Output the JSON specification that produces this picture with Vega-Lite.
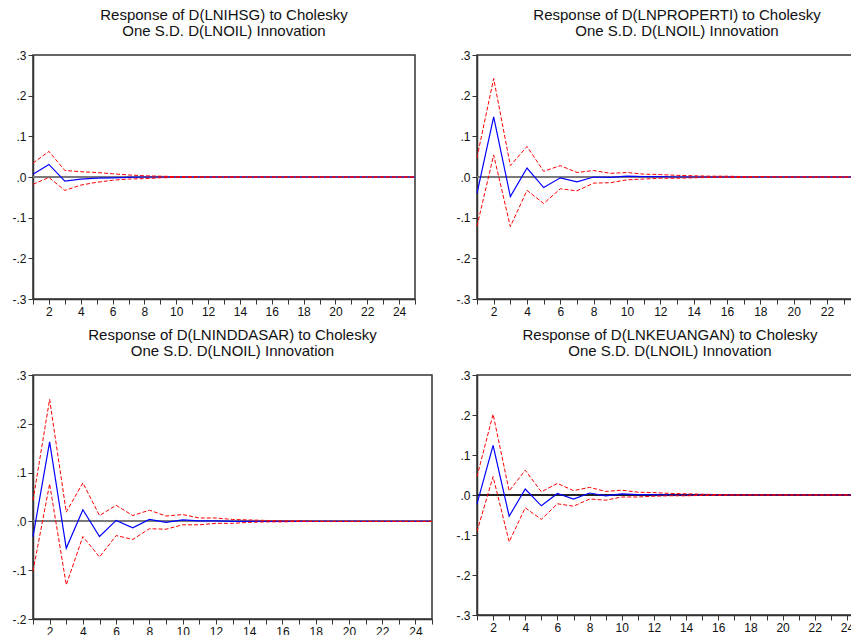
{
  "$schema": "https://vega.github.io/schema/vega-lite/v6.json",
  "background": "white",
  "padding": {"left": 11, "top": 7, "right": 0, "bottom": 0},
  "bounds": "flush",
  "align": "none",
  "columns": 2,
  "spacing": {"row": 76, "column": 45},
  "datasets": {
    "irf": [
      {"p":"IHSG","t":1,"r":0.007,"u":0.034,"l":-0.018},
      {"p":"IHSG","t":2,"r":0.031,"u":0.063,"l":-0.001},
      {"p":"IHSG","t":3,"r":-0.010,"u":0.016,"l":-0.033},
      {"p":"IHSG","t":4,"r":-0.005,"u":0.013,"l":-0.020},
      {"p":"IHSG","t":5,"r":-0.003,"u":0.011,"l":-0.013},
      {"p":"IHSG","t":6,"r":-0.002,"u":0.008,"l":-0.008},
      {"p":"IHSG","t":7,"r":-0.001,"u":0.005,"l":-0.005},
      {"p":"IHSG","t":8,"r":0.000,"u":0.003,"l":-0.004},
      {"p":"IHSG","t":9,"r":0.000,"u":0.002,"l":-0.002},
      {"p":"IHSG","t":10,"r":0.000,"u":0.001,"l":-0.001},
      {"p":"IHSG","t":11,"r":0.000,"u":0.001,"l":-0.001},
      {"p":"IHSG","t":12,"r":0,"u":0,"l":0},
      {"p":"IHSG","t":13,"r":0,"u":0,"l":0},
      {"p":"IHSG","t":14,"r":0,"u":0,"l":0},
      {"p":"IHSG","t":15,"r":0,"u":0,"l":0},
      {"p":"IHSG","t":16,"r":0,"u":0,"l":0},
      {"p":"IHSG","t":17,"r":0,"u":0,"l":0},
      {"p":"IHSG","t":18,"r":0,"u":0,"l":0},
      {"p":"IHSG","t":19,"r":0,"u":0,"l":0},
      {"p":"IHSG","t":20,"r":0,"u":0,"l":0},
      {"p":"IHSG","t":21,"r":0,"u":0,"l":0},
      {"p":"IHSG","t":22,"r":0,"u":0,"l":0},
      {"p":"IHSG","t":23,"r":0,"u":0,"l":0},
      {"p":"IHSG","t":24,"r":0,"u":0,"l":0},
      {"p":"IHSG","t":25,"r":0,"u":0,"l":0},

      {"p":"PROPERTI","t":1,"r":-0.040,"u":0.048,"l":-0.121},
      {"p":"PROPERTI","t":2,"r":0.148,"u":0.242,"l":0.054},
      {"p":"PROPERTI","t":3,"r":-0.048,"u":0.028,"l":-0.122},
      {"p":"PROPERTI","t":4,"r":0.022,"u":0.075,"l":-0.033},
      {"p":"PROPERTI","t":5,"r":-0.026,"u":0.014,"l":-0.065},
      {"p":"PROPERTI","t":6,"r":-0.002,"u":0.028,"l":-0.029},
      {"p":"PROPERTI","t":7,"r":-0.012,"u":0.011,"l":-0.034},
      {"p":"PROPERTI","t":8,"r":0.000,"u":0.016,"l":-0.015},
      {"p":"PROPERTI","t":9,"r":-0.001,"u":0.009,"l":-0.014},
      {"p":"PROPERTI","t":10,"r":0.002,"u":0.011,"l":-0.007},
      {"p":"PROPERTI","t":11,"r":0.001,"u":0.007,"l":-0.005},
      {"p":"PROPERTI","t":12,"r":0.001,"u":0.006,"l":-0.003},
      {"p":"PROPERTI","t":13,"r":0.000,"u":0.004,"l":-0.003},
      {"p":"PROPERTI","t":14,"r":0.000,"u":0.003,"l":-0.002},
      {"p":"PROPERTI","t":15,"r":0.000,"u":0.002,"l":-0.001},
      {"p":"PROPERTI","t":16,"r":0.000,"u":0.002,"l":-0.001},
      {"p":"PROPERTI","t":17,"r":0.000,"u":0.001,"l":-0.001},
      {"p":"PROPERTI","t":18,"r":0.000,"u":0.001,"l":0.000},
      {"p":"PROPERTI","t":19,"r":0,"u":0,"l":0},
      {"p":"PROPERTI","t":20,"r":0,"u":0,"l":0},
      {"p":"PROPERTI","t":21,"r":0,"u":0,"l":0},
      {"p":"PROPERTI","t":22,"r":0,"u":0,"l":0},
      {"p":"PROPERTI","t":23,"r":0,"u":0,"l":0},
      {"p":"PROPERTI","t":24,"r":0,"u":0,"l":0},
      {"p":"PROPERTI","t":25,"r":0,"u":0,"l":0},

      {"p":"INDDASAR","t":1,"r":-0.031,"u":0.043,"l":-0.102},
      {"p":"INDDASAR","t":2,"r":0.163,"u":0.250,"l":0.077},
      {"p":"INDDASAR","t":3,"r":-0.055,"u":0.019,"l":-0.130},
      {"p":"INDDASAR","t":4,"r":0.024,"u":0.079,"l":-0.031},
      {"p":"INDDASAR","t":5,"r":-0.031,"u":0.012,"l":-0.073},
      {"p":"INDDASAR","t":6,"r":0.002,"u":0.033,"l":-0.029},
      {"p":"INDDASAR","t":7,"r":-0.013,"u":0.012,"l":-0.037},
      {"p":"INDDASAR","t":8,"r":0.004,"u":0.023,"l":-0.015},
      {"p":"INDDASAR","t":9,"r":-0.002,"u":0.011,"l":-0.016},
      {"p":"INDDASAR","t":10,"r":0.003,"u":0.014,"l":-0.007},
      {"p":"INDDASAR","t":11,"r":0.001,"u":0.007,"l":-0.007},
      {"p":"INDDASAR","t":12,"r":0.001,"u":0.007,"l":-0.004},
      {"p":"INDDASAR","t":13,"r":0.000,"u":0.004,"l":-0.004},
      {"p":"INDDASAR","t":14,"r":0.000,"u":0.003,"l":-0.002},
      {"p":"INDDASAR","t":15,"r":0.000,"u":0.002,"l":-0.001},
      {"p":"INDDASAR","t":16,"r":0.000,"u":0.001,"l":-0.001},
      {"p":"INDDASAR","t":17,"r":0.000,"u":0.001,"l":0.000},
      {"p":"INDDASAR","t":18,"r":0,"u":0,"l":0},
      {"p":"INDDASAR","t":19,"r":0,"u":0,"l":0},
      {"p":"INDDASAR","t":20,"r":0,"u":0,"l":0},
      {"p":"INDDASAR","t":21,"r":0,"u":0,"l":0},
      {"p":"INDDASAR","t":22,"r":0,"u":0,"l":0},
      {"p":"INDDASAR","t":23,"r":0,"u":0,"l":0},
      {"p":"INDDASAR","t":24,"r":0,"u":0,"l":0},
      {"p":"INDDASAR","t":25,"r":0,"u":0,"l":0},

      {"p":"KEUANGAN","t":1,"r":-0.022,"u":0.046,"l":-0.091},
      {"p":"KEUANGAN","t":2,"r":0.124,"u":0.202,"l":0.046},
      {"p":"KEUANGAN","t":3,"r":-0.053,"u":0.010,"l":-0.117},
      {"p":"KEUANGAN","t":4,"r":0.015,"u":0.062,"l":-0.032},
      {"p":"KEUANGAN","t":5,"r":-0.027,"u":0.008,"l":-0.061},
      {"p":"KEUANGAN","t":6,"r":0.004,"u":0.029,"l":-0.022},
      {"p":"KEUANGAN","t":7,"r":-0.010,"u":0.011,"l":-0.028},
      {"p":"KEUANGAN","t":8,"r":0.005,"u":0.019,"l":-0.010},
      {"p":"KEUANGAN","t":9,"r":-0.002,"u":0.009,"l":-0.013},
      {"p":"KEUANGAN","t":10,"r":0.003,"u":0.012,"l":-0.005},
      {"p":"KEUANGAN","t":11,"r":0.001,"u":0.007,"l":-0.005},
      {"p":"KEUANGAN","t":12,"r":0.001,"u":0.006,"l":-0.003},
      {"p":"KEUANGAN","t":13,"r":0.000,"u":0.004,"l":-0.002},
      {"p":"KEUANGAN","t":14,"r":0.000,"u":0.003,"l":-0.002},
      {"p":"KEUANGAN","t":15,"r":0.000,"u":0.002,"l":-0.001},
      {"p":"KEUANGAN","t":16,"r":0.000,"u":0.001,"l":-0.001},
      {"p":"KEUANGAN","t":17,"r":0,"u":0,"l":0},
      {"p":"KEUANGAN","t":18,"r":0,"u":0,"l":0},
      {"p":"KEUANGAN","t":19,"r":0,"u":0,"l":0},
      {"p":"KEUANGAN","t":20,"r":0,"u":0,"l":0},
      {"p":"KEUANGAN","t":21,"r":0,"u":0,"l":0},
      {"p":"KEUANGAN","t":22,"r":0,"u":0,"l":0},
      {"p":"KEUANGAN","t":23,"r":0,"u":0,"l":0},
      {"p":"KEUANGAN","t":24,"r":0,"u":0,"l":0},
      {"p":"KEUANGAN","t":25,"r":0,"u":0,"l":0}
    ]
  },
  "data": {"name": "irf"},
  "concat": [
    {
      "width": 382, "height": 244,
      "title": {"text": ["Response of D(LNIHSG) to Cholesky", "One S.D. D(LNOIL) Innovation"]},
      "transform": [{"filter": "datum.p == 'IHSG'"}],
      "layer": [
        {"mark": {"type": "rule", "color": "#7a7a7a", "strokeWidth": 1.2}, "encoding": {"y": {"datum": 0, "type": "quantitative", "scale": {"domain": [-0.3, 0.3], "nice": false}, "axis": {"values": [-0.3,-0.2,-0.1,0,0.1,0.2,0.3], "tickCount": 7, "labelExpr": "datum.value == 0 ? '.0' : (datum.value < 0 ? '-.' + round(-datum.value*10) : '.' + round(datum.value*10))", "title": null}}}},
        {"mark": {"type": "line", "color": "#0000ff", "strokeWidth": 1.2}, "encoding": {"x": {"field": "t", "type": "quantitative", "scale": {"domain": [1, 25], "nice": false, "zero": false}, "axis": {"values": [1,2,3,4,5,6,7,8,9,10,11,12,13,14,15,16,17,18,19,20,21,22,23,24,25], "tickCount": 25, "labelExpr": "datum.value % 2 == 0 ? '' + datum.value : ''", "title": null}}, "y": {"field": "r", "type": "quantitative", "title": null}}},
        {"mark": {"type": "line", "color": "#ff0000", "strokeWidth": 1, "strokeDash": [4, 2]}, "encoding": {"x": {"field": "t", "type": "quantitative"}, "y": {"field": "u", "type": "quantitative", "title": null}}},
        {"mark": {"type": "line", "color": "#ff0000", "strokeWidth": 1, "strokeDash": [4, 2]}, "encoding": {"x": {"field": "t", "type": "quantitative"}, "y": {"field": "l", "type": "quantitative", "title": null}}}
      ]
    },
    {
      "width": 400, "height": 244,
      "title": {"text": ["Response of D(LNPROPERTI) to Cholesky", "One S.D. D(LNOIL) Innovation"]},
      "transform": [{"filter": "datum.p == 'PROPERTI'"}],
      "layer": [
        {"mark": {"type": "rule", "color": "#7a7a7a", "strokeWidth": 1.2}, "encoding": {"y": {"datum": 0, "type": "quantitative", "scale": {"domain": [-0.3, 0.3], "nice": false}, "axis": {"values": [-0.3,-0.2,-0.1,0,0.1,0.2,0.3], "tickCount": 7, "labelExpr": "datum.value == 0 ? '.0' : (datum.value < 0 ? '-.' + round(-datum.value*10) : '.' + round(datum.value*10))", "title": null}}}},
        {"mark": {"type": "line", "color": "#0000ff", "strokeWidth": 1.2}, "encoding": {"x": {"field": "t", "type": "quantitative", "scale": {"domain": [1, 25], "nice": false, "zero": false}, "axis": {"values": [1,2,3,4,5,6,7,8,9,10,11,12,13,14,15,16,17,18,19,20,21,22,23,24,25], "tickCount": 25, "labelExpr": "datum.value % 2 == 0 ? '' + datum.value : ''", "title": null}}, "y": {"field": "r", "type": "quantitative", "title": null}}},
        {"mark": {"type": "line", "color": "#ff0000", "strokeWidth": 1, "strokeDash": [4, 2]}, "encoding": {"x": {"field": "t", "type": "quantitative"}, "y": {"field": "u", "type": "quantitative", "title": null}}},
        {"mark": {"type": "line", "color": "#ff0000", "strokeWidth": 1, "strokeDash": [4, 2]}, "encoding": {"x": {"field": "t", "type": "quantitative"}, "y": {"field": "l", "type": "quantitative", "title": null}}}
      ]
    },
    {
      "width": 399, "height": 244,
      "title": {"text": ["Response of D(LNINDDASAR) to Cholesky", "One S.D. D(LNOIL) Innovation"]},
      "transform": [{"filter": "datum.p == 'INDDASAR'"}],
      "layer": [
        {"mark": {"type": "rule", "color": "#7a7a7a", "strokeWidth": 1.2}, "encoding": {"y": {"datum": 0, "type": "quantitative", "scale": {"domain": [-0.2, 0.3], "nice": false}, "axis": {"values": [-0.2,-0.1,0,0.1,0.2,0.3], "tickCount": 6, "labelExpr": "datum.value == 0 ? '.0' : (datum.value < 0 ? '-.' + round(-datum.value*10) : '.' + round(datum.value*10))", "title": null}}}},
        {"mark": {"type": "line", "color": "#0000ff", "strokeWidth": 1.2}, "encoding": {"x": {"field": "t", "type": "quantitative", "scale": {"domain": [1, 25], "nice": false, "zero": false}, "axis": {"values": [1,2,3,4,5,6,7,8,9,10,11,12,13,14,15,16,17,18,19,20,21,22,23,24,25], "tickCount": 25, "labelExpr": "datum.value % 2 == 0 ? '' + datum.value : ''", "title": null}}, "y": {"field": "r", "type": "quantitative", "title": null}}},
        {"mark": {"type": "line", "color": "#ff0000", "strokeWidth": 1, "strokeDash": [4, 2]}, "encoding": {"x": {"field": "t", "type": "quantitative"}, "y": {"field": "u", "type": "quantitative", "title": null}}},
        {"mark": {"type": "line", "color": "#ff0000", "strokeWidth": 1, "strokeDash": [4, 2]}, "encoding": {"x": {"field": "t", "type": "quantitative"}, "y": {"field": "l", "type": "quantitative", "title": null}}}
      ]
    },
    {
      "width": 386, "height": 240,
      "title": {"text": ["Response of D(LNKEUANGAN) to Cholesky", "One S.D. D(LNOIL) Innovation"]},
      "transform": [{"filter": "datum.p == 'KEUANGAN'"}],
      "layer": [
        {"mark": {"type": "rule", "color": "#222222", "strokeWidth": 1.2}, "encoding": {"y": {"datum": 0, "type": "quantitative", "scale": {"domain": [-0.3, 0.3], "nice": false}, "axis": {"values": [-0.3,-0.2,-0.1,0,0.1,0.2,0.3], "tickCount": 7, "labelExpr": "datum.value == 0 ? '.0' : (datum.value < 0 ? '-.' + round(-datum.value*10) : '.' + round(datum.value*10))", "title": null}}}},
        {"mark": {"type": "line", "color": "#0000ff", "strokeWidth": 1.2}, "encoding": {"x": {"field": "t", "type": "quantitative", "scale": {"domain": [1, 25], "nice": false, "zero": false}, "axis": {"values": [1,2,3,4,5,6,7,8,9,10,11,12,13,14,15,16,17,18,19,20,21,22,23,24,25], "tickCount": 25, "labelExpr": "datum.value % 2 == 0 ? '' + datum.value : ''", "title": null}}, "y": {"field": "r", "type": "quantitative", "title": null}}},
        {"mark": {"type": "line", "color": "#ff0000", "strokeWidth": 1, "strokeDash": [4, 2]}, "encoding": {"x": {"field": "t", "type": "quantitative"}, "y": {"field": "u", "type": "quantitative", "title": null}}},
        {"mark": {"type": "line", "color": "#ff0000", "strokeWidth": 1, "strokeDash": [4, 2]}, "encoding": {"x": {"field": "t", "type": "quantitative"}, "y": {"field": "l", "type": "quantitative", "title": null}}}
      ]
    }
  ],
  "config": {
    "view": {"stroke": "#333333", "strokeWidth": 1.5},
    "axis": {
      "domainColor": "#333333", "domainWidth": 1.5,
      "tickColor": "#333333", "tickSize": 5, "tickWidth": 1,
      "labelColor": "#111111", "labelFont": "Liberation Sans", "labelFontSize": 12,
      "labelPadding": 2, "grid": false, "labelFlush": false, "labelOverlap": false
    },
    "title": {"font": "Liberation Sans", "fontSize": 15, "fontWeight": "normal", "color": "#111111", "lineHeight": 16, "anchor": "middle", "offset": 10}
  }
}
